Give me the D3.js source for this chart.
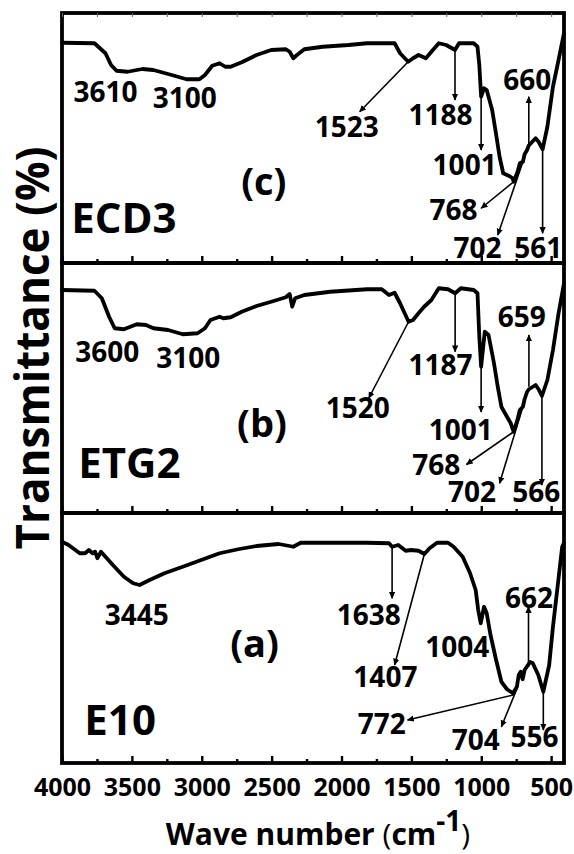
<!DOCTYPE html>
<html>
<head>
<meta charset="utf-8">
<script src="https://cdn.jsdelivr.net/npm/d3@7"></script>
<style>
  body { margin: 0; background: #fff; }
  svg { display: block; background: #fff; }
  text { font-family: "Open Sans", "Noto Sans", sans-serif; font-weight: 700; fill: #000; }
</style>
</head>
<body>
<svg id="chart" width="574" height="854"></svg>
<script>
// FTIR spectra: [wave number (cm-1), transmittance (%)]
const spectrumECD3 = [
  [4000,88.1],[3768,87.9],[3689,83.9],[3649,79.2],[3610,76.9],[3531,76.5],[3425,77.6],[3346,77.2],
  [3215,75.2],[3109,73.5],[3017,73.5],[2977,75.2],[2925,78.9],[2872,79.9],[2832,78.5],[2793,78.5],
  [2714,80.3],[2608,83.2],[2503,85.2],[2398,85.5],[2371,84.5],[2345,81.9],[2319,83.2],[2266,85.5],
  [2134,86.5],[1950,87.2],[1818,87.9],[1620,87.9],[1581,83.9],[1523,80.5],[1488,81.9],[1449,83.2],
  [1396,81.9],[1357,84.5],[1304,87.9],[1251,87.2],[1188,85.2],[1159,87.9],[1054,87.9],[1027,86.5],
  [1014,79.2],[1001,66.5],[980,69.9],[961,69.2],[922,61.2],[895,51.9],[869,42.5],[843,35.9],
  [800,34.8],[777,34.0],[768,32.5],[740,36.5],[724,39.9],[702,40.5],[690,43.5],[672,45.2],
  [660,47.0],[611,49.9],[590,48.5],[561,45.5],[527,54.5],[487,70.5],[447,81.2],[408,91.9]
];
const spectrumETG2 = [
  [4000,89.2],[3768,88.9],[3715,85.9],[3663,78.5],[3623,73.9],[3557,73.5],[3465,75.5],[3399,75.2],
  [3346,73.9],[3241,73.2],[3136,71.5],[3030,71.9],[2977,73.9],[2938,77.2],[2872,78.5],[2846,77.9],
  [2793,78.3],[2714,80.5],[2608,82.8],[2503,84.5],[2398,86.3],[2371,87.6],[2353,82.5],[2332,85.9],
  [2266,87.2],[2081,88.5],[1818,89.5],[1712,89.5],[1660,87.2],[1620,88.1],[1581,83.9],[1520,76.5],
  [1488,77.2],[1449,79.9],[1409,82.5],[1357,85.2],[1304,89.9],[1238,89.5],[1187,87.9],[1146,89.9],
  [1054,89.2],[1027,87.9],[1014,70.5],[1001,58.5],[975,72.5],[948,71.2],[909,59.9],[882,50.5],
  [856,42.5],[816,38.5],[790,36.0],[768,32.5],[740,37.5],[724,41.2],[702,42.5],[690,45.5],
  [672,48.5],[659,49.5],[611,51.2],[590,49.5],[566,46.8],[527,53.2],[487,65.2],[447,79.9],[408,91.9]
];
const spectrumE10 = [
  [4000,88.5],[3953,87.2],[3873,83.9],[3834,83.9],[3808,85.2],[3781,83.9],[3763,84.5],[3747,81.9],
  [3721,84.5],[3689,82.5],[3636,79.2],[3557,74.5],[3491,71.9],[3445,71.2],[3373,73.2],[3267,75.9],
  [3136,78.5],[3004,81.2],[2872,83.9],[2740,85.5],[2608,86.8],[2450,87.6],[2371,86.8],[2345,86.5],
  [2292,88.1],[2081,88.1],[1818,88.1],[1660,87.9],[1638,86.5],[1594,87.2],[1541,84.9],[1502,85.2],
  [1449,84.9],[1407,83.6],[1370,85.9],[1317,88.1],[1238,88.1],[1198,86.5],[1133,82.5],[1080,75.9],
  [1040,69.2],[1022,61.2],[1004,55.9],[980,62.5],[961,59.9],[935,51.5],[895,41.5],[856,32.5],
  [816,29.5],[772,27.9],[745,30.5],[732,35.2],[718,36.5],[704,33.5],[690,37.2],[651,40.4],
  [632,40.0],[592,35.2],[556,28.5],[514,39.2],[487,54.5],[447,73.9],[421,86.5],[408,88.1]
];

// Band annotations: arrow from the curve (from) to the label side (to), label centred at (at)
const bandsECD3 = [
  { band: "3610", at: [3689, 68.5] },
  { band: "3100", at: [3122, 65.9] },
  { band: "1523", from: [1523, 80.5], to: [1870, 60.5], at: [1963, 54.5] },
  { band: "1188", from: [1188, 85.2], to: [1188, 65.2], at: [1291, 59.2] },
  { band: "1001", from: [1001, 66.5], to: [1001, 45.2], at: [1119, 39.2] },
  { band: "660",  from: [660, 46.5],  to: [660, 66.5],  at: [671, 73.2] },
  { band: "768",  from: [768, 32.5],  to: [1001, 21.9], at: [1198, 21.2] },
  { band: "702",  from: [702, 40.5],  to: [882, 11.2],  at: [1027, 5.9] },
  { band: "561",  from: [561, 45.5],  to: [561, 11.9],  at: [592, 5.9] }
];
const bandsETG2 = [
  { band: "3600", at: [3676, 64.5] },
  { band: "3100", at: [3096, 61.9] },
  { band: "1520", from: [1520, 76.5], to: [1805, 45.9], at: [1884, 41.9] },
  { band: "1187", from: [1187, 87.9], to: [1187, 64.5], at: [1291, 59.2] },
  { band: "1001", from: [1001, 59.9], to: [1001, 40.4], at: [1146, 33.4] },
  { band: "659",  from: [659, 50.5],  to: [659, 71.2],  at: [711, 78.5] },
  { band: "768",  from: [768, 32.5],  to: [1106, 19.4], at: [1322, 19.2] },
  { band: "702",  from: [702, 42.5],  to: [869, 11.9],  at: [1067, 8.6] },
  { band: "566",  from: [566, 46.8],  to: [566, 11.2],  at: [606, 8.6] }
];
const bandsE10 = [
  { band: "3445", at: [3465, 59.2] },
  { band: "1638", from: [1638, 86.5], to: [1638, 65.9], at: [1805, 59.2] },
  { band: "1407", from: [1407, 83.6], to: [1620, 39.2], at: [1686, 34.5] },
  { band: "1004", at: [1172, 46.5] },
  { band: "662",  from: [662, 38.5],  to: [662, 62.5],  at: [658, 65.9] },
  { band: "772",  from: [772, 27.2],  to: [1528, 17.2], at: [1712, 15.6] },
  { band: "704",  from: [740, 30.4],  to: [856, 14.5],  at: [1040, 9.2] },
  { band: "556",  from: [556, 28.5],  to: [556, 13.2],  at: [619, 10.5] }
];

const sampleNames = ["ECD3", "ETG2", "E10"];
const panelLetters = ["(c)", "(b)", "(a)"];
const namePos = [[3557, 17.9], [3518, 19.9], [3584, 17.2]];
const letterPos = [[2556, 32.5], [2569, 35.9], [2622, 47.9]];
const spectra = [spectrumECD3, spectrumETG2, spectrumE10];
const bands = [bandsECD3, bandsETG2, bandsE10];
const xTickValues = [4000, 3500, 3000, 2500, 2000, 1500, 1000, 500];
const xMinorTicks = [3750, 3250, 2750, 2250, 1750, 1250, 750];

// Layout
const svg = d3.select("#chart");
const left = 62, right = 564, top0 = 13, panelH = 250;
const x = d3.scaleLinear().domain([4000, 408]).range([left, right]);

svg.append("defs").append("marker")
  .attr("id", "head").attr("viewBox", "0 -5 10 10")
  .attr("refX", 9).attr("refY", 0)
  .attr("markerWidth", 7).attr("markerHeight", 7)
  .attr("markerUnits", "userSpaceOnUse")
  .attr("orient", "auto")
  .append("path").attr("d", "M0,-4.5L10,0L0,4.5Z").attr("fill", "#000");

spectra.forEach((data, i) => {
  const pTop = top0 + i * panelH, pBot = pTop + panelH;
  const y = d3.scaleLinear().domain([0, 100]).range([pBot, pTop]);
  const g = svg.append("g");

  // spectrum
  g.append("path")
    .datum(data)
    .attr("fill", "none").attr("stroke", "#000")
    .attr("stroke-width", 3.8).attr("stroke-linejoin", "round").attr("stroke-linecap", "round")
    .attr("d", d3.line().x(d => x(d[0])).y(d => y(d[1])));

  // band arrows and labels
  bands[i].forEach(b => {
    if (b.from) {
      g.append("line")
        .attr("x1", x(b.from[0])).attr("y1", y(b.from[1]))
        .attr("x2", x(b.to[0])).attr("y2", y(b.to[1]))
        .attr("stroke", "#000").attr("stroke-width", 1.6)
        .attr("marker-end", "url(#head)");
    }
    g.append("text")
      .attr("x", x(b.at[0])).attr("y", y(b.at[1]))
      .attr("dy", "0.36em").attr("text-anchor", "middle")
      .attr("font-size", 28)
      .text(b.band);
  });

  g.append("text")
    .attr("x", x(letterPos[i][0])).attr("y", y(letterPos[i][1]))
    .attr("dy", "0.36em").attr("text-anchor", "middle")
    .attr("font-size", 38).text(panelLetters[i]);

  g.append("text")
    .attr("x", x(namePos[i][0])).attr("y", y(namePos[i][1]))
    .attr("dy", "0.36em").attr("text-anchor", "middle")
    .attr("font-size", 42).text(sampleNames[i]);

  // inward ticks on the panel's bottom edge
  const axis = d3.axisBottom(x).tickValues(xTickValues).tickSize(-7).tickFormat("");
  const ax = g.append("g").attr("transform", `translate(0,${pBot})`).call(axis);
  ax.select(".domain").remove();
  ax.selectAll("line").attr("stroke-width", 2.4);
  const minor = d3.axisBottom(x).tickValues(xMinorTicks).tickSize(-4).tickFormat("");
  const mx = g.append("g").attr("transform", `translate(0,${pBot})`).call(minor);
  mx.select(".domain").remove();
  mx.selectAll("line").attr("stroke-width", 2.4);

  // panel frame
  g.append("rect")
    .attr("x", left).attr("y", pTop).attr("width", right - left).attr("height", panelH)
    .attr("fill", "none").attr("stroke", "#000").attr("stroke-width", 3.8);
});

// faint ticks along the top edge
const topAxis = d3.axisTop(x).tickValues(xTickValues.concat(xMinorTicks)).tickSize(-4).tickFormat("");
const ta = svg.append("g").attr("transform", `translate(0,${top0})`).call(topAxis);
ta.select(".domain").remove();
ta.selectAll("line").attr("stroke-width", 1).attr("stroke", "#666");

// x tick labels
const bottom = top0 + 3 * panelH;
const labelAxis = d3.axisBottom(x).tickValues(xTickValues).tickSize(0).tickPadding(15)
  .tickFormat(d3.format("d"));
const la = svg.append("g").attr("transform", `translate(0,${bottom})`).call(labelAxis);
la.select(".domain").remove();
la.selectAll("text")
  .attr("font-family", "Open Sans, sans-serif").attr("font-weight", 700)
  .attr("font-size", 25).attr("fill", "#000");

// axis titles
const xt = svg.append("text")
  .attr("x", 318).attr("y", 845).attr("text-anchor", "middle").attr("font-size", 30);
xt.append("tspan").text("Wave number ");
xt.append("tspan").attr("font-weight", 400).text("(");
xt.append("tspan").text("cm");
xt.append("tspan").attr("dy", -14).attr("font-size", 28).text("-1");
xt.append("tspan").attr("dy", 14).attr("font-weight", 400).text(")");

svg.append("text")
  .attr("transform", "translate(49,348) rotate(-90)")
  .attr("text-anchor", "middle").attr("font-size", 46)
  .attr("textLength", 403).attr("lengthAdjust", "spacingAndGlyphs")
  .text("Transmittance (%)");
</script>
</body>
</html>
